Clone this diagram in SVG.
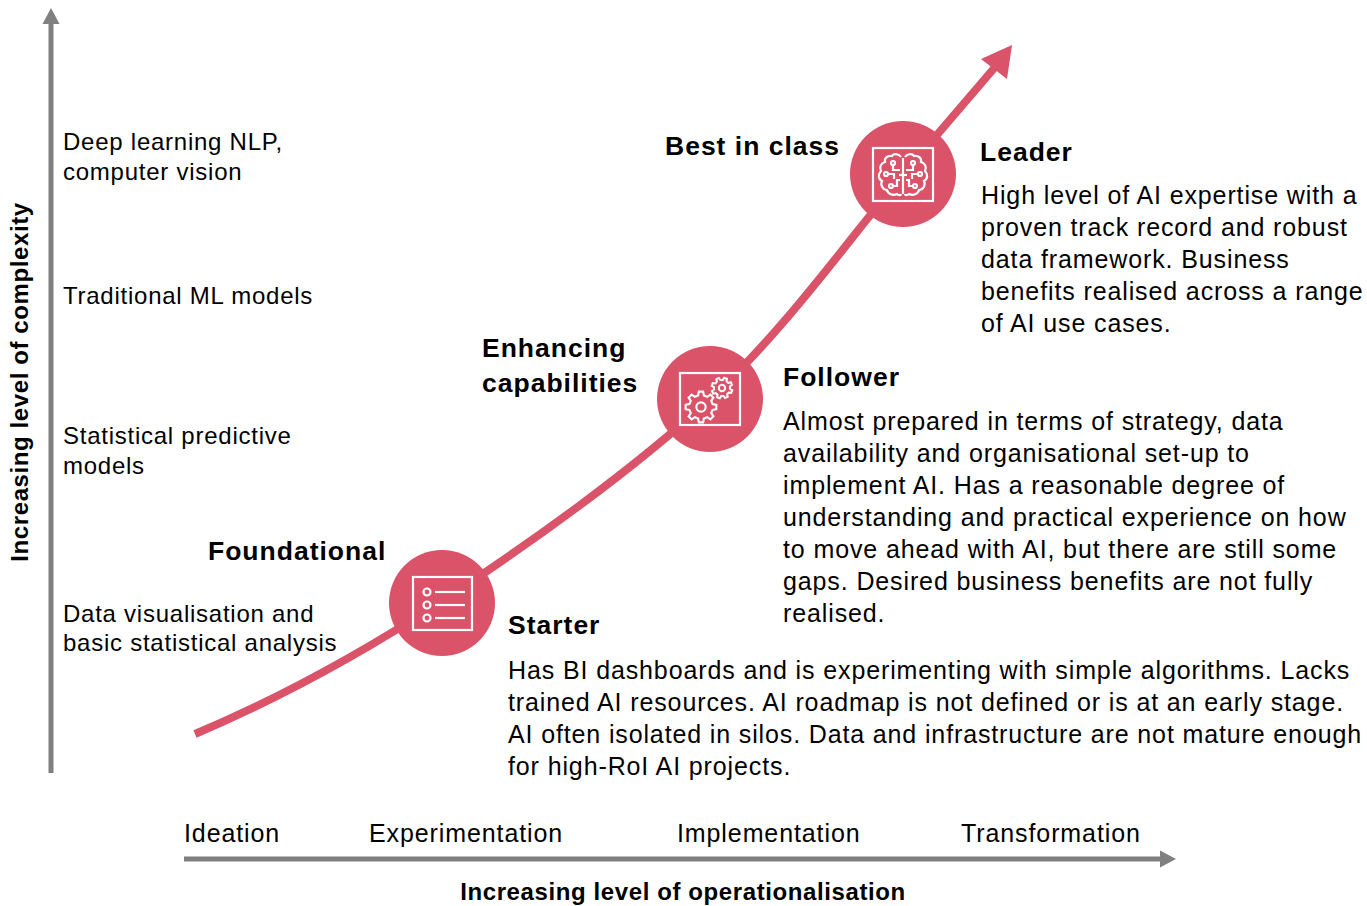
<svg xmlns="http://www.w3.org/2000/svg" width="1367" height="906" viewBox="0 0 1367 906">
<style>
  text { font-family: "Liberation Sans", Arial, sans-serif; fill: #000; }
  .lbl { font-size: 24px; letter-spacing: 0.75px; }
  .body { font-size: 25px; letter-spacing: 0.88px; }
  .axl { font-size: 25px; letter-spacing: 0.9px; }
  .ttl { font-size: 26.5px; font-weight: bold; letter-spacing: 1px; }
  .axt { font-size: 24px; font-weight: bold; letter-spacing: 0.6px; }
  .axis { stroke: #808080; stroke-width: 5; fill: none; }
  .axhead { fill: #808080; }
  .curve { stroke: #DB5369; stroke-width: 8; fill: none; }
  .badge { fill: #DB5369; }
  .ico { stroke: #fff; stroke-width: 2.2; fill: none; }
</style>
<defs>
  <path id="gear" d="M7.47,-1.86 L9.9,-1.39 L9.9,1.39 L7.47,1.86 L6.6,3.97 L7.99,6.02 L6.02,7.99 L3.97,6.6 L1.86,7.47 L1.39,9.9 L-1.39,9.9 L-1.86,7.47 L-3.97,6.6 L-6.02,7.99 L-7.99,6.02 L-6.6,3.97 L-7.47,1.86 L-9.9,1.39 L-9.9,-1.39 L-7.47,-1.86 L-6.6,-3.97 L-7.99,-6.02 L-6.02,-7.99 L-3.97,-6.6 L-1.86,-7.47 L-1.39,-9.9 L1.39,-9.9 L1.86,-7.47 L3.97,-6.6 L6.02,-7.99 L7.99,-6.02 L6.6,-3.97 Z M3,0 A3,3 0 1 0 -3,0 A3,3 0 1 0 3,0 Z"/>
  <g id="brainHalf">
    <path d="M-2,-18 C-4,-21 -9,-22 -11,-19 C-15,-20 -19,-17 -18,-13 C-22,-12 -24,-8 -22,-4 C-25,-1 -25,4 -21,6 C-23,10 -20,15 -16,15 C-15,19 -10,21 -6,19 C-4,21 -2,20 -2,19"/>
    <circle cx="-10" cy="-12" r="2"/>
    <path d="M-10,-10 V-5 H-3"/>
    <circle cx="-17" cy="-1" r="2"/>
    <path d="M-15,-1 H-9 V4"/>
    <circle cx="-12" cy="11" r="2"/>
    <path d="M-10,11 H-6 V5 H-3"/>
  </g>
</defs>

<g id="axes">
  <line class="axis" x1="51" y1="773" x2="51" y2="22"/>
  <polygon class="axhead" points="51,8 42.5,24 59.5,24"/>
  <line class="axis" x1="184" y1="859" x2="1162" y2="859"/>
  <polygon class="axhead" points="1176,859 1160,850.5 1160,867.5"/>
  <text class="axt" text-anchor="middle" transform="translate(28,382) rotate(-90)">Increasing level of complexity</text>
  <text class="axt" x="683" y="900" text-anchor="middle">Increasing level of operationalisation</text>
</g>

<g id="complexity-labels">
  <text class="lbl" x="63" y="150">Deep learning NLP,</text>
  <text class="lbl" x="63" y="180">computer vision</text>
  <text class="lbl" x="63" y="304">Traditional ML models</text>
  <text class="lbl" x="63" y="444">Statistical predictive</text>
  <text class="lbl" x="63" y="474">models</text>
  <text class="lbl" x="63" y="622">Data visualisation and</text>
  <text class="lbl" x="63" y="651">basic statistical analysis</text>
</g>

<g id="stage-labels">
  <text class="axl" x="184" y="842">Ideation</text>
  <text class="axl" x="369" y="842">Experimentation</text>
  <text class="axl" x="677" y="842">Implementation</text>
  <text class="axl" x="961" y="842">Transformation</text>
</g>

<g id="connectors">
  <path class="curve" d="M195,734 C280,698 356,657 442,601 C528,545 633,470 710,399 C787,328 856,230 903,175 C935,137 960,108 996,66"/>
  <polygon class="badge" points="1012,45 981,59 1007,79"/>
</g>

<g id="starter">
  <circle class="badge" cx="442" cy="603" r="53"/>
  <g class="ico">
    <rect x="413" y="577" width="59" height="53"/>
    <circle cx="427" cy="592" r="3.5"/>
    <circle cx="427" cy="605" r="3.5"/>
    <circle cx="427" cy="618" r="3.5"/>
    <line x1="435" y1="592" x2="465" y2="592"/>
    <line x1="435" y1="605" x2="465" y2="605"/>
    <line x1="435" y1="618" x2="465" y2="618"/>
  </g>
  <text class="ttl" x="208" y="560">Foundational</text>
  <text class="ttl" x="508" y="634">Starter</text>
  <text class="body" x="508" y="679">Has BI dashboards and is experimenting with simple algorithms. Lacks</text>
  <text class="body" x="508" y="711">trained AI resources. AI roadmap is not defined or is at an early stage.</text>
  <text class="body" x="508" y="743" textLength="854" lengthAdjust="spacing">AI often isolated in silos. Data and infrastructure are not mature enough</text>
  <text class="body" x="508" y="775">for high-RoI AI projects.</text>
</g>

<g id="follower">
  <circle class="badge" cx="710" cy="399" r="53"/>
  <g class="ico">
    <rect x="680" y="373" width="60" height="52"/>
    <use href="#gear" transform="translate(701,407) scale(1.55)" style="stroke-width:1.35"/>
    <use href="#gear" transform="translate(722,388) rotate(20) scale(1.05)" style="stroke-width:1.9"/>
  </g>
  <text class="ttl" x="482" y="357">Enhancing</text>
  <text class="ttl" x="482" y="392">capabilities</text>
  <text class="ttl" x="783" y="386">Follower</text>
  <text class="body" x="783" y="430">Almost prepared in terms of strategy, data</text>
  <text class="body" x="783" y="462">availability and organisational set-up to</text>
  <text class="body" x="783" y="494">implement AI. Has a reasonable degree of</text>
  <text class="body" x="783" y="526">understanding and practical experience on how</text>
  <text class="body" x="783" y="558">to move ahead with AI, but there are still some</text>
  <text class="body" x="783" y="590">gaps. Desired business benefits are not fully</text>
  <text class="body" x="783" y="622">realised.</text>
</g>

<g id="leader">
  <circle class="badge" cx="903" cy="174" r="53"/>
  <g class="ico">
    <rect x="873" y="148" width="60" height="53"/>
    <g transform="translate(903,175)">
      <use href="#brainHalf"/>
      <use href="#brainHalf" transform="scale(-1,1)"/>
      <line x1="0" y1="-17" x2="0" y2="19"/>
      <line x1="-4" y1="0" x2="4" y2="0"/>
    </g>
  </g>
  <text class="ttl" x="665" y="155">Best in class</text>
  <text class="ttl" x="980" y="161">Leader</text>
  <text class="body" x="981" y="204">High level of AI expertise with a</text>
  <text class="body" x="981" y="236">proven track record and robust</text>
  <text class="body" x="981" y="268">data framework. Business</text>
  <text class="body" x="981" y="300">benefits realised across a range</text>
  <text class="body" x="981" y="332">of AI use cases.</text>
</g>
</svg>
